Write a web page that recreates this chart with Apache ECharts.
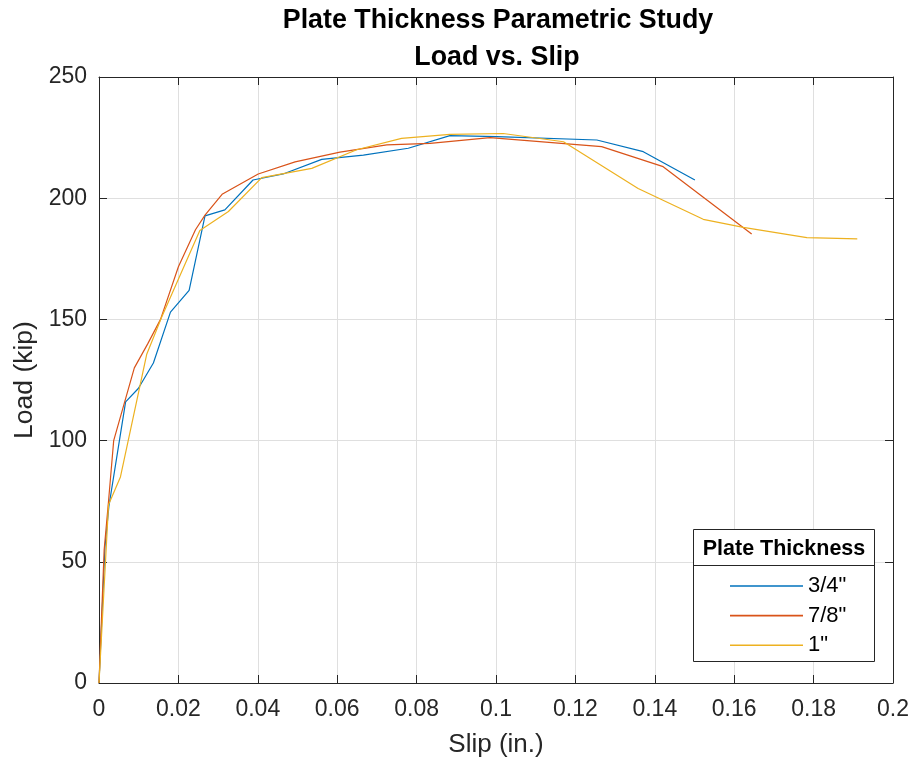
<!DOCTYPE html>
<html>
<head>
<meta charset="utf-8">
<script src="https://cdn.jsdelivr.net/npm/echarts@6/dist/echarts.min.js"></script>
<style>html,body{margin:0;padding:0;background:#fff}#c{width:914px;height:760px}</style>
</head>
<body>
<div id="c"></div>
<script>
const seriesNames = ['3/4"', '7/8"', '1"'];
const slip34 = [0, 0.0015, 0.0025, 0.0067, 0.0099, 0.0137, 0.0180, 0.0227, 0.0267, 0.0317, 0.0388, 0.0464, 0.0561, 0.0666, 0.0779, 0.0884, 0.1002, 0.1254, 0.1371, 0.1501];
const load34 = [0, 56, 73, 116, 121.5, 132, 153, 162, 192.7, 195.2, 207.5, 210, 216, 217.8, 220.6, 225.8, 225.4, 224, 219.2, 207.5];
const slip78 = [0, 0.0013, 0.0024, 0.0037, 0.0089, 0.0123, 0.0155, 0.0200, 0.0243, 0.0267, 0.0310, 0.0401, 0.0494, 0.0607, 0.0725, 0.0834, 0.0985, 0.1266, 0.1421, 0.1644];
const load78 = [0, 55, 75, 100, 130, 140, 150, 171.7, 187, 193, 201.6, 210, 215, 219, 222, 222.6, 225, 221.3, 213, 185.2];
const slip1 = [0, 0.0024, 0.0054, 0.0071, 0.0120, 0.0158, 0.0254, 0.0326, 0.0410, 0.0536, 0.0649, 0.0762, 0.0884, 0.1018, 0.1170, 0.1358, 0.1522, 0.1623, 0.1783, 0.1910];
const load1 = [0, 73.5, 85, 98, 135.5, 151, 186.7, 194.5, 208.5, 212.3, 220, 224.7, 226.3, 226.7, 223.3, 204, 191.3, 188, 183.7, 183.2];
const xTicks = {min: 0, max: 0.2, interval: 0.02};
const yTicks = {min: 0, max: 250, interval: 50};
const titleLines = ['Plate Thickness Parametric Study', 'Load vs. Slip'];
const legendTitle = 'Plate Thickness';
const colors = ['#0072BD', '#D95319', '#EDB120'];

const pairs = (xs, ys) => xs.map((x, i) => [x, ys[i]]);
const FONT = 'Liberation Sans, Arial, Helvetica, sans-serif';
const axisCol = '#262626';

const chart = echarts.init(document.getElementById('c'), null, {renderer: 'canvas'});
const commonX = {
  type: 'value', min: xTicks.min, max: xTicks.max, interval: xTicks.interval,
  axisLine: {show: true, onZero: false, lineStyle: {color: axisCol, width: 1}},
  axisTick: {show: true, inside: true, length: 8, lineStyle: {color: axisCol}},
  splitLine: {show: false}
};
const commonY = {
  type: 'value', min: yTicks.min, max: yTicks.max, interval: yTicks.interval,
  axisLine: {show: true, onZero: false, lineStyle: {color: axisCol, width: 1}},
  axisTick: {show: true, inside: true, length: 8, lineStyle: {color: axisCol}},
  splitLine: {show: false}
};
chart.setOption({
  animation: false,
  color: colors,
  grid: {left: 99, right: 21, top: 77, bottom: 77, containLabel: false, outerBoundsMode: 'none'},
  xAxis: [
    Object.assign({}, commonX, {
      position: 'bottom',
      splitLine: {show: true, lineStyle: {color: '#dfdfdf', width: 1}},
      axisLabel: {show: true, color: axisCol, fontSize: 23, fontFamily: FONT, margin: 15,
        formatter: v => String(Math.round(v * 100) / 100)},
      name: 'Slip (in.)', nameLocation: 'middle', nameGap: 49,
      nameTextStyle: {color: axisCol, fontSize: 26, fontFamily: FONT}
    }),
    Object.assign({}, commonX, {position: 'top', axisLabel: {show: false}})
  ],
  yAxis: [
    Object.assign({}, commonY, {
      position: 'left',
      splitLine: {show: true, lineStyle: {color: '#dfdfdf', width: 1}},
      axisLabel: {show: true, color: axisCol, fontSize: 23, fontFamily: FONT, margin: 12},
      name: 'Load (kip)', nameLocation: 'middle', nameGap: 47,
      nameTextStyle: {color: axisCol, fontSize: 26.5, fontFamily: FONT}
    }),
    Object.assign({}, commonY, {position: 'right', axisLabel: {show: false}})
  ],
  legend: {
    z: 20,
    orient: 'vertical', left: 725, top: 570, icon: 'rect', itemWidth: 73, itemHeight: 1.6, itemGap: 7.6,
    itemTextGap: 6, selectedMode: false,
    textStyle: {color: '#000', fontSize: 22, lineHeight: 22, fontFamily: FONT},
    data: seriesNames
  },
  series: [
    {name: seriesNames[0], type: 'line', data: pairs(slip34, load34), symbol: 'none', lineStyle: {width: 1.2}},
    {name: seriesNames[1], type: 'line', data: pairs(slip78, load78), symbol: 'none', lineStyle: {width: 1.2}},
    {name: seriesNames[2], type: 'line', data: pairs(slip1, load1), symbol: 'none', lineStyle: {width: 1.2}}
  ],
  graphic: {
    z: 5,
    elements: [
      {type: 'rect', silent: true, z: 5,
        shape: {x: 693.5, y: 529.5, width: 181, height: 132},
        style: {fill: '#fff', stroke: '#262626', lineWidth: 1}},
      {type: 'line', silent: true, z: 6,
        shape: {x1: 693.5, y1: 565.5, x2: 874.5, y2: 565.5},
        style: {stroke: '#262626', lineWidth: 1}},
      {type: 'text', silent: true, z: 6,
        style: {x: 784, y: 549, text: legendTitle, fill: '#000', font: 'bold 21.5px ' + FONT, textAlign: 'center', textVerticalAlign: 'middle'}},
      {type: 'text', silent: true, z: 6,
        style: {x: 498, y: 21, text: titleLines[0], fill: '#000', font: 'bold 26.8px ' + FONT, textAlign: 'center', textVerticalAlign: 'middle'}},
      {type: 'text', silent: true, z: 6,
        style: {x: 497, y: 58, text: titleLines[1], fill: '#000', font: 'bold 26.8px ' + FONT, textAlign: 'center', textVerticalAlign: 'middle'}}
    ]
  }
});
</script>
</body>
</html>
